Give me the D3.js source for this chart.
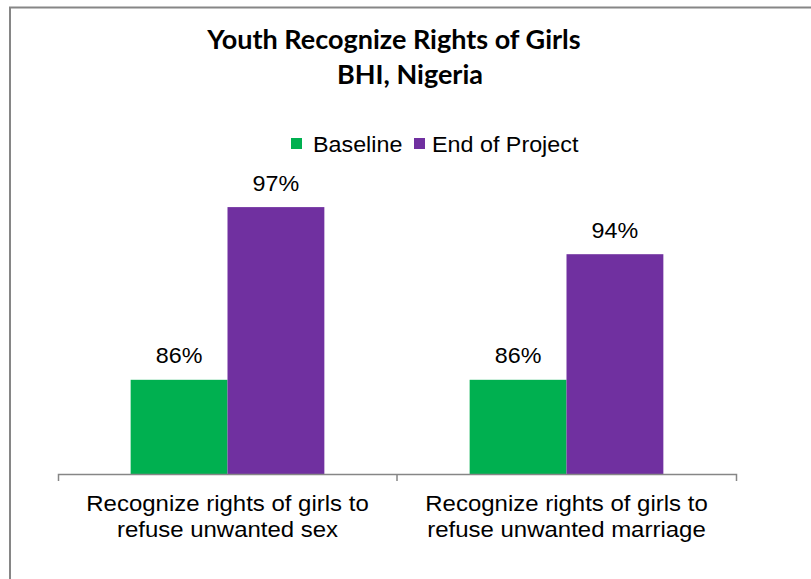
<!DOCTYPE html>
<html>
<head>
<meta charset="utf-8">
<script src="https://cdn.jsdelivr.net/npm/d3@7/dist/d3.min.js"></script>
<style>
  html, body { margin: 0; padding: 0; background: #fff; }
  svg { display: block; }
</style>
</head>
<body>
<svg id="chart" width="811" height="579"></svg>
<script>
// Chart data
const categories = ["sex", "marriage"];
const categoryLines = [
  ["Recognize rights of girls to", "refuse unwanted sex"],
  ["Recognize rights of girls to", "refuse unwanted marriage"]
];
const seriesNames = ["Baseline", "End of Project"];
const baselineValues = [86, 86];
const endOfProjectValues = [97, 94];
const seriesColors = ["#00B050", "#7030A0"];
const yDomain = [80, 100];
const titleLines = ["Youth Recognize Rights of Girls", "BHI, Nigeria"];

const series = seriesNames.map((name, i) => ({
  name,
  color: seriesColors[i],
  values: i === 0 ? baselineValues : endOfProjectValues
}));

const svg = d3.select("#chart");
const FONT = "'Liberation Sans', Arial, sans-serif";

// Chart frame
svg.append("rect")
  .attr("x", 10).attr("y", 7.5)
  .attr("width", 900).attr("height", 700)
  .attr("fill", "none")
  .attr("stroke", "#868686")
  .attr("stroke-width", 2);

// Title
const titleCenters = [394, 410];
const titleBaselines = [49, 84];
titleLines.forEach((t, i) => {
  svg.append("text")
    .attr("x", titleCenters[i]).attr("y", titleBaselines[i])
    .attr("text-anchor", "middle")
    .attr("font-family", "Lato, sans-serif")
    .attr("font-weight", "bold")
    .attr("font-size", 27)
    .attr("fill", "#000")
    .text(t);
});

// Scales
const x = d3.scaleBand().domain(categories).range([58, 736]).paddingInner(0).paddingOuter(0);
const xs = d3.scaleBand().domain(seriesNames).range([0, x.bandwidth()]).paddingInner(0).paddingOuter(0.75);
const y = d3.scaleLinear().domain(yDomain).range([474, 160]);

function stretchedText(parent, px, py, str, size, sx, anchor) {
  const g = parent.append("g").attr("transform", `translate(${px},${py}) scale(${sx},1)`);
  g.append("text")
    .attr("text-anchor", anchor || "middle")
    .attr("font-family", FONT)
    .attr("font-size", size)
    .attr("fill", "#000")
    .text(str);
  return g;
}

// Bars with value labels
const groups = svg.append("g").selectAll("g")
  .data(categories)
  .join("g")
  .attr("transform", d => `translate(${x(d)},0)`);

groups.each(function(cat, ci) {
  const g = d3.select(this);
  series.forEach(s => {
    const v = s.values[ci];
    g.append("rect")
      .attr("x", xs(s.name))
      .attr("y", y(v))
      .attr("width", xs.bandwidth())
      .attr("height", y(yDomain[0]) - y(v))
      .attr("fill", s.color);
    stretchedText(g, xs(s.name) + xs.bandwidth() / 2, y(v) - 16.5, v + "%", 22, 1.06);
  });
});

// Category axis
const axis = d3.axisBottom(x).tickValues([]).tickSizeOuter(7);
const axisG = svg.append("g").attr("transform", `translate(0,${y(yDomain[0])})`).call(axis);
axisG.select(".domain").attr("stroke", "#868686").attr("stroke-width", 1.5);
categories.slice(1).forEach(c => {
  axisG.append("line")
    .attr("x1", x(c)).attr("x2", x(c))
    .attr("y1", 0).attr("y2", 7)
    .attr("stroke", "#868686").attr("stroke-width", 1.5);
});

// Category labels
categories.forEach((c, i) => {
  categoryLines[i].forEach((line, li) => {
    stretchedText(svg, x(c) + x.bandwidth() / 2, 510.7 + li * 26, line, 22, 1.09);
  });
});

// Legend
const legendSwatchX = [291, 414];
const legendTextX = [313, 432];
series.forEach((s, i) => {
  svg.append("rect")
    .attr("x", legendSwatchX[i]).attr("y", 138)
    .attr("width", 11).attr("height", 11)
    .attr("fill", s.color);
  stretchedText(svg, legendTextX[i], 151.5, s.name, 22, 1.06, "start");
});
</script>
</body>
</html>
